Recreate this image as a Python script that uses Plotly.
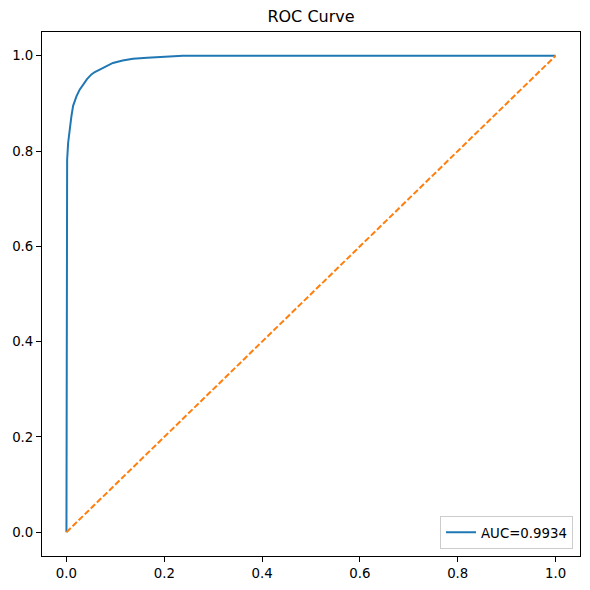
import plotly.graph_objects as go

fpr = [0, 0, 0, 0.0014, 0.0034, 0.0068, 0.0101, 0.0136, 0.0204, 0.027, 0.034, 0.042, 0.051, 0.058, 0.068, 0.08, 0.095, 0.115, 0.136, 0.165, 0.204, 0.238, 0.4, 0.6, 0.8, 1.0]
tpr = [0, 0.50, 0.71, 0.782, 0.817, 0.852, 0.873, 0.895, 0.915, 0.929, 0.940, 0.951, 0.961, 0.966, 0.971, 0.978, 0.985, 0.990, 0.994, 0.996, 0.998, 1.0, 1.0, 1.0, 1.0, 1.0]
diag = [0, 1]
auc_label = "AUC=0.9934"
title = "ROC Curve"
tickvals = [0, 0.2, 0.4, 0.6, 0.8, 1.0]
ticktext = ["0.0", "0.2", "0.4", "0.6", "0.8", "1.0"]

fig = go.Figure()
fig.add_trace(go.Scatter(x=fpr, y=tpr, mode="lines", name=auc_label,
                         line=dict(color="#1f77b4", width=2)))
fig.add_trace(go.Scatter(x=diag, y=diag, mode="lines", showlegend=False,
                         line=dict(color="#ff7f0e", width=2, dash="6px,2.5px")))

axis_common = dict(range=[-0.05, 1.05], tickvals=tickvals, ticktext=ticktext,
                   showgrid=False, zeroline=False, showline=True, mirror=True,
                   linecolor="black", linewidth=1, ticks="outside", ticklen=5,
                   tickwidth=1, tickcolor="black", automargin=False,
                   tickfont=dict(family="DejaVu Sans", size=13.33, color="black"))

# page body has an 8px margin, so the figure is drawn 8px in from the top-left
fig.update_layout(
    width=582, height=582,
    margin=dict(l=34, r=10, t=24, b=34, autoexpand=False),
    paper_bgcolor="white", plot_bgcolor="white",
    title=dict(text=title, x=0.5, xref="paper", y=1 - 8/582, yanchor="middle",
               font=dict(family="DejaVu Sans", size=16, color="black")),
    xaxis=axis_common,
    yaxis=axis_common,
    legend=dict(x=0.987, y=0.013, xanchor="right", yanchor="bottom",
                bgcolor="white", bordercolor="#cccccc", borderwidth=1,
                itemwidth=30,
                font=dict(family="DejaVu Sans", size=13.33, color="black")),
)

fig.write_html("out.html")
